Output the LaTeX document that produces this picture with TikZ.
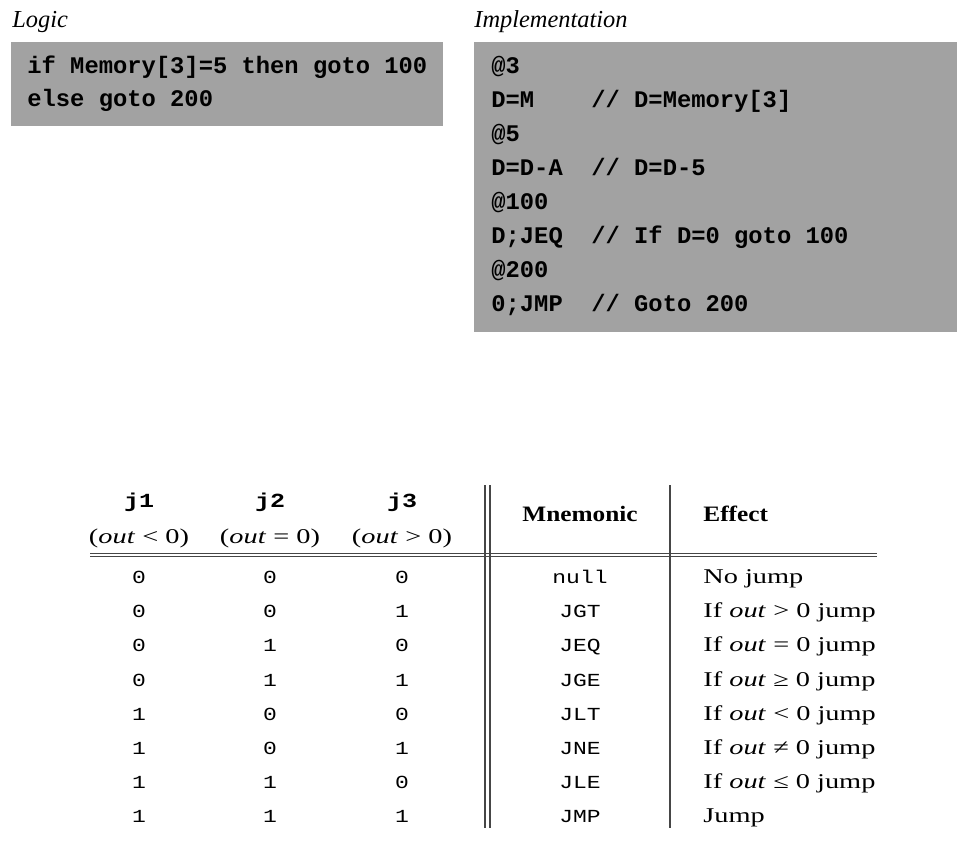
\documentclass[tikz,border=0pt]{standalone}
\usepackage{fontspec}
\setmainfont{Liberation Serif}
\setmonofont{Liberation Mono}
\newfontfamily\tabrm[FakeStretch=1.35]{Liberation Serif}
\newfontfamily\tabhd[FakeStretch=1.15]{Liberation Serif}
\newfontfamily\tabtt[FakeStretch=1.25]{Liberation Mono}
\usepackage{xcolor}
\definecolor{codegray}{RGB}{162,162,162}
\definecolor{rulegray}{RGB}{70,70,70}

\begin{document}
\begin{tikzpicture}[x=0.5pt,y=-0.5pt,
    title/.style={anchor=base west,inner sep=0pt,font=\fontsize{12.2}{14}\selectfont\itshape},
    code/.style={anchor=base west,inner sep=0pt,font=\fontsize{11.9}{14}\selectfont\ttfamily\bfseries},
    jbit/.style={anchor=base,inner sep=0pt,font=\fontsize{10}{12}\selectfont\tabtt\bfseries},
    cond/.style={anchor=base,inner sep=0pt,font=\fontsize{10.5}{12}\selectfont\tabrm},
    hdr/.style={anchor=base,inner sep=0pt,font=\fontsize{11}{13}\selectfont\tabhd\bfseries},
    bit/.style={anchor=base,inner sep=0pt,font=\fontsize{9.2}{12}\selectfont\tabtt},
    eff/.style={anchor=base west,inner sep=0pt,font=\fontsize{10.5}{12}\selectfont\tabrm},
    rule/.style={rulegray,line width=0.6pt}]
    \useasboundingbox (0,0) rectangle (978,844);

    % logic
    \draw (12,28) node[title] (lgt) {Logic};
    \fill[codegray] (11,42) rectangle (443,126);
    \draw (27,74) node[code] (lg1) {if Memory[3]=5 then goto 100};
    \draw (27,107) node[code] (lg2) {else goto 200};

    % implementation
    \draw (474,28) node[title] (imt) {Implementation};
    \fill[codegray] (474,42) rectangle (957,332);
    \draw (491,74) node[code] (im1) {@3};
    \draw (491,108) node[code] (im2) {D=M~~~~//~D=Memory[3]};
    \draw (491,142) node[code] (im3) {@5};
    \draw (491,176) node[code] (im4) {D=D-A~~//~D=D-5};
    \draw (491,210) node[code] (im5) {@100};
    \draw (491,244) node[code] (im6) {D;JEQ~~//~If~D=0~goto~100};
    \draw (491,278) node[code] (im7) {@200};
    \draw (491,312) node[code] (im8) {0;JMP~~//~Goto~200};

    % table rules
    \draw[rule] (90,553.5) -- (877,553.5);
    \draw[rule] (90,556.5) -- (877,556.5);
    \draw[rule] (485,485) -- (485,828);
    \draw[rule] (490,485) -- (490,828);
    \draw[rule] (670,485) -- (670,828);

    % table header
    \draw (139,507) node[jbit] (hj1) {j1};
    \draw (270,507) node[jbit] (hj2) {j2};
    \draw (402,507) node[jbit] (hj3) {j3};
    \draw (139,543) node[cond] (hc1) {(\textit{out} < 0)};
    \draw (270,543) node[cond] (hc2) {(\textit{out} = 0)};
    \draw (402,543) node[cond] (hc3) {(\textit{out} > 0)};
    \draw (580,521) node[hdr] (hm) {Mnemonic};
    \draw (703,521) node[hdr,anchor=base west] (he) {Effect};

    % table rows
    \draw (139,583) node[bit] (a1) {0} (270,583) node[bit] (b1) {0} (402,583) node[bit] (c1) {0}
          (580,583) node[bit] (m1) {null} (703,583) node[eff] (e1) {No jump};
    \draw (139,617) node[bit] (a2) {0} (270,617) node[bit] (b2) {0} (402,617) node[bit] (c2) {1}
          (580,617) node[bit] (m2) {JGT} (703,617) node[eff] (e2) {If \textit{out} > 0 jump};
    \draw (139,651) node[bit] (a3) {0} (270,651) node[bit] (b3) {1} (402,651) node[bit] (c3) {0}
          (580,651) node[bit] (m3) {JEQ} (703,651) node[eff] (e3) {If \textit{out} = 0 jump};
    \draw (139,686) node[bit] (a4) {0} (270,686) node[bit] (b4) {1} (402,686) node[bit] (c4) {1}
          (580,686) node[bit] (m4) {JGE} (703,686) node[eff] (e4) {If \textit{out} ≥ 0 jump};
    \draw (139,720) node[bit] (a5) {1} (270,720) node[bit] (b5) {0} (402,720) node[bit] (c5) {0}
          (580,720) node[bit] (m5) {JLT} (703,720) node[eff] (e5) {If \textit{out} < 0 jump};
    \draw (139,754) node[bit] (a6) {1} (270,754) node[bit] (b6) {0} (402,754) node[bit] (c6) {1}
          (580,754) node[bit] (m6) {JNE} (703,754) node[eff] (e6) {If \textit{out} ≠ 0 jump};
    \draw (139,788) node[bit] (a7) {1} (270,788) node[bit] (b7) {1} (402,788) node[bit] (c7) {0}
          (580,788) node[bit] (m7) {JLE} (703,788) node[eff] (e7) {If \textit{out} ≤ 0 jump};
    \draw (139,822) node[bit] (a8) {1} (270,822) node[bit] (b8) {1} (402,822) node[bit] (c8) {1}
          (580,822) node[bit] (m8) {JMP} (703,822) node[eff] (e8) {Jump};
  \end{tikzpicture}
\end{document}
